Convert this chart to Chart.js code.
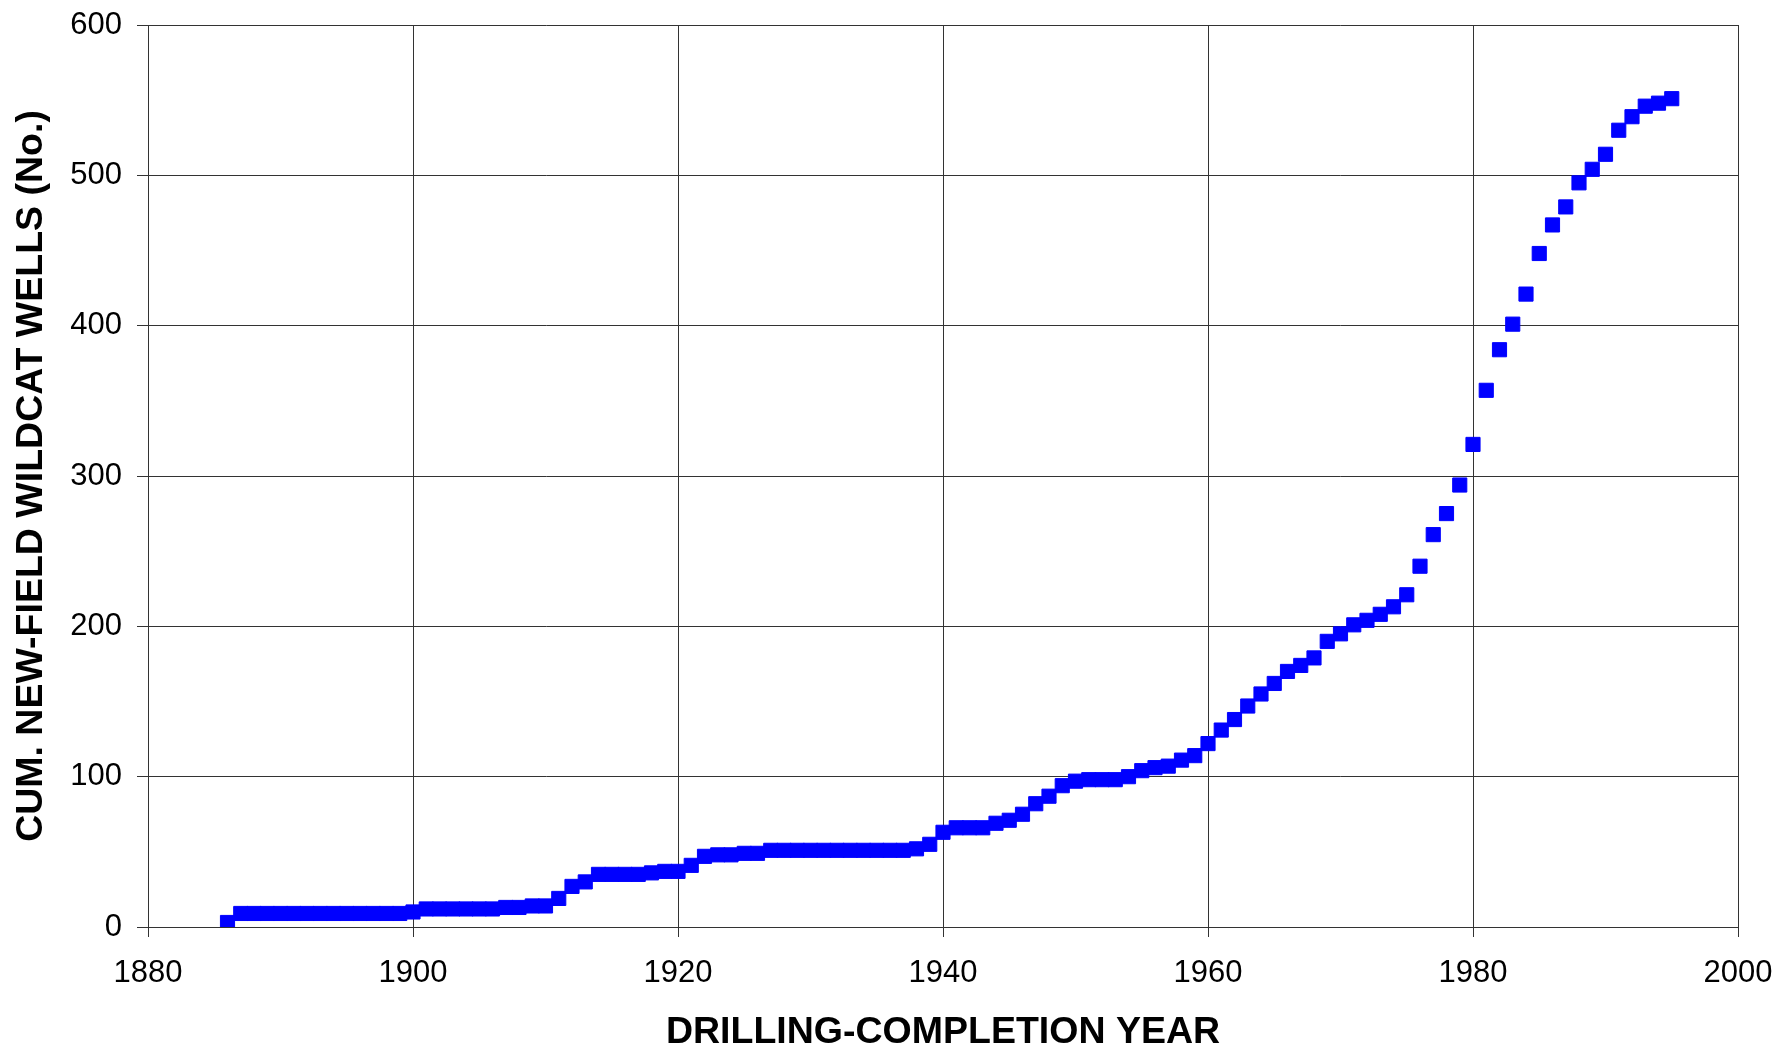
<!DOCTYPE html>
<html>
<head>
<meta charset="utf-8">
<script src="https://cdn.jsdelivr.net/npm/chart.js@4"></script>
<style>
  body { margin: 0; background: #fff; }
</style>
</head>
<body>
<canvas id="grafica" width="1782" height="1049"></canvas>
<script>
// Datos
var years = [
  1886, 1887, 1888, 1889, 1890, 1891, 1892, 1893, 1894, 1895,
  1896, 1897, 1898, 1899, 1900, 1901, 1902, 1903, 1904, 1905,
  1906, 1907, 1908, 1909, 1910, 1911, 1912, 1913, 1914, 1915,
  1916, 1917, 1918, 1919, 1920, 1921, 1922, 1923, 1924, 1925,
  1926, 1927, 1928, 1929, 1930, 1931, 1932, 1933, 1934, 1935,
  1936, 1937, 1938, 1939, 1940, 1941, 1942, 1943, 1944, 1945,
  1946, 1947, 1948, 1949, 1950, 1951, 1952, 1953, 1954, 1955,
  1956, 1957, 1958, 1959, 1960, 1961, 1962, 1963, 1964, 1965,
  1966, 1967, 1968, 1969, 1970, 1971, 1972, 1973, 1974, 1975,
  1976, 1977, 1978, 1979, 1980, 1981, 1982, 1983, 1984, 1985,
  1986, 1987, 1988, 1989, 1990, 1991, 1992, 1993, 1994, 1995
];
var cumWells = [
  3, 9, 9, 9, 9, 9, 9, 9, 9, 9,
  9, 9, 9, 9, 10, 12, 12, 12, 12, 12,
  12, 13, 13, 14, 14, 19, 27, 30, 35, 35,
  35, 35, 36, 37, 37, 41, 47, 48, 48, 49,
  49, 51, 51, 51, 51, 51, 51, 51, 51, 51,
  51, 51, 52, 55, 63, 66, 66, 66, 69, 71,
  75, 82, 87, 94, 97, 98, 98, 98, 100, 104,
  106, 107, 111, 114, 122, 131, 138, 147, 155, 162,
  170, 174, 179, 190, 195, 201, 204, 208, 213, 221,
  240, 261, 275, 294, 321, 357, 384, 401, 421, 448,
  467, 479, 495, 504, 514, 530, 539, 546, 548, 551
];
var xTicks = [1880, 1900, 1920, 1940, 1960, 1980, 2000];
var yTicks = [0, 100, 200, 300, 400, 500, 600];

var puntos = years.map(function (y, i) { return { x: y, y: cumWells[i] }; });

var lineColor = '#333333';

// quita el margen extra que Chart.js reserva para las etiquetas de los extremos
function sinMargen(scale) {
  scale.paddingTop = 0;
  scale.paddingBottom = 0;
  scale.paddingLeft = 0;
  scale.paddingRight = 0;
}

var ctx = document.getElementById('grafica').getContext('2d');
var chart = new Chart(ctx, {
  type: 'scatter',
  data: {
    datasets: [{
      label: 'Cum. new-field wildcat wells',
      data: puntos,
      pointStyle: 'rect',
      pointRadius: 10,
      pointHoverRadius: 10,
      backgroundColor: '#0000ff',
      borderColor: '#0000ff',
      borderWidth: 1
    }]
  },
  options: {
    responsive: false,
    animation: false,
    layout: { padding: { left: 0, top: 25, right: 44, bottom: 0 } },
    plugins: {
      legend: { display: false },
      tooltip: { enabled: false }
    },
    scales: {
      x: {
        type: 'linear',
        min: xTicks[0],
        max: xTicks[xTicks.length - 1],
        afterBuildTicks: function (scale) {
          scale.ticks = xTicks.map(function (v) { return { value: v }; });
        },
        afterFit: function (scale) { scale.height = 122; sinMargen(scale); },
        grid: { color: lineColor, lineWidth: 1, tickLength: 10 },
        border: { color: lineColor, width: 1 },
        ticks: {
          padding: 18,
          color: '#000',
          font: { family: 'Liberation Sans, Arial, sans-serif', size: 31 },
          callback: function (v) { return String(v); }
        },
        title: {
          display: true,
          text: 'DRILLING-COMPLETION YEAR',
          color: '#000',
          font: { family: 'Liberation Sans, Arial, sans-serif', size: 37.5, weight: 'bold', lineHeight: 1 },
          padding: { top: 0, bottom: -2 }
        }
      },
      y: {
        min: yTicks[0],
        max: yTicks[yTicks.length - 1],
        afterBuildTicks: function (scale) {
          scale.ticks = yTicks.map(function (v) { return { value: v }; });
        },
        afterFit: function (scale) { scale.width = 148; sinMargen(scale); },
        grid: { color: lineColor, lineWidth: 1, tickLength: 11 },
        border: { color: lineColor, width: 1 },
        ticks: {
          padding: 15,
          color: '#000',
          font: { family: 'Liberation Sans, Arial, sans-serif', size: 31 },
          callback: function (v) { return String(v); }
        },
        title: {
          display: true,
          text: 'CUM. NEW-FIELD WILDCAT WELLS (No.)',
          color: '#000',
          font: { family: 'Liberation Sans, Arial, sans-serif', size: 37.5, weight: 'bold', lineHeight: 1.2 },
          padding: { top: 9, bottom: 0 }
        }
      }
    }
  }
});
</script>
</body>
</html>
